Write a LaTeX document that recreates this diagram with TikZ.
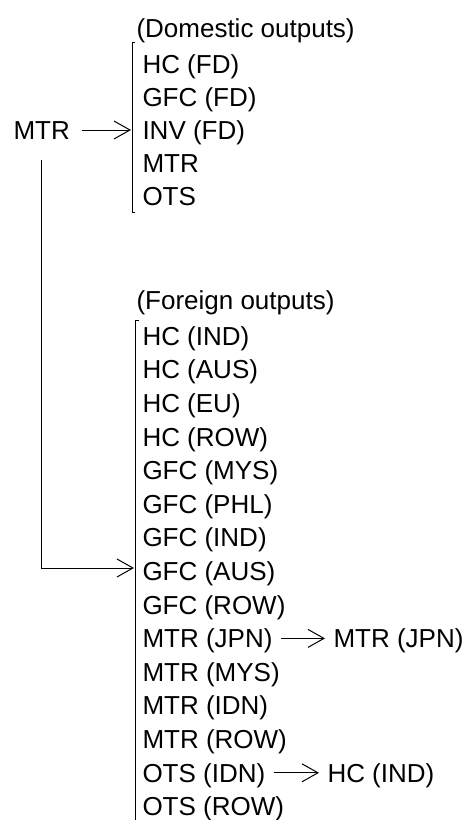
\documentclass[tikz,border=0pt]{standalone}
\usepackage{fontspec}
\setmainfont{Liberation Sans}
\usetikzlibrary{arrows.meta}
\begin{document}
\begin{tikzpicture}[x=1pt, y=-1pt, line width=1pt,
	lbl/.style={anchor=west, inner sep=0pt, text height=18.5pt, text depth=0pt, font=\fontsize{26}{30}\selectfont},
	arr/.style={-{Straight Barb[length=16pt, width=18pt, line width=1pt]}}]
	\useasboundingbox (0,0) rectangle (469,820);

	% source
	\node[lbl] (src) at (13,130) {MTR};

	% domestic outputs
	\node[lbl] (dtitle) at (136,28) {(Domestic outputs)};
	\node[lbl] (d1) at (142,64) {HC (FD)};
	\node[lbl] (d2) at (142,97) {GFC (FD)};
	\node[lbl] (d3) at (142,130) {INV (FD)};
	\node[lbl] (d4) at (142,163) {MTR};
	\node[lbl] (d5) at (142,196) {OTS};
	\draw (135,42) -- (132,42) -- (132,212) -- (135,212);
	\coordinate (din) at (131,130);

	% foreign outputs
	\node[lbl] (ftitle) at (136,300) {(Foreign outputs)};
	\node[lbl] (f1) at (142,336) {HC (IND)};
	\node[lbl] (f2) at (142,369.6) {HC (AUS)};
	\node[lbl] (f3) at (142,403.2) {HC (EU)};
	\node[lbl] (f4) at (142,436.8) {HC (ROW)};
	\node[lbl] (f5) at (142,470.4) {GFC (MYS)};
	\node[lbl] (f6) at (142,504) {GFC (PHL)};
	\node[lbl] (f7) at (142,537.6) {GFC (IND)};
	\node[lbl] (f8) at (142,571.2) {GFC (AUS)};
	\node[lbl] (f9) at (142,604.8) {GFC (ROW)};
	\node[lbl] (f10) at (142,638.4) {MTR (JPN)};
	\node[lbl] (f11) at (142,672) {MTR (MYS)};
	\node[lbl] (f12) at (142,705.6) {MTR (IDN)};
	\node[lbl] (f13) at (142,739.2) {MTR (ROW)};
	\node[lbl] (f14) at (142,772.8) {OTS (IDN)};
	\node[lbl] (f15) at (142,806.4) {OTS (ROW)};
	\draw (139,320) -- (135,320) -- (135,820);
	\coordinate (fin) at (134,568);

	% second stage
	\node[lbl] (jpn) at (333,638.4) {MTR (JPN)};
	\node[lbl] (ind) at (327,772.8) {HC (IND)};

	% connectors
	\draw[arr] ([xshift=12]src.east) -- (din);
	\coordinate (drop) at (41,160);
	\draw[arr] (drop) |- (fin);
	\draw[arr] ([xshift=8]f10.east) -- ([xshift=-8]jpn.west);
	\draw[arr] ([xshift=8]f14.east) -- ([xshift=-8]ind.west);
\end{tikzpicture}
\end{document}
